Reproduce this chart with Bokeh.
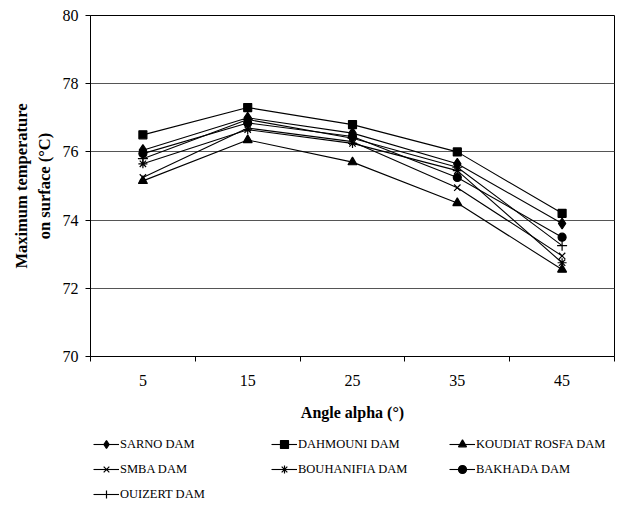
from bokeh.plotting import figure
from bokeh.models import FixedTicker, Range1d
from bokeh.layouts import column
from bokeh.embed import file_html
from bokeh.resources import INLINE

angles = [5, 15, 25, 35, 45]
sarno = [76.05, 77.0, 76.55, 75.65, 73.9]
dahmouni = [76.5, 77.3, 76.8, 76.0, 74.2]
koudiat = [75.15, 76.35, 75.7, 74.5, 72.55]
smba = [75.25, 76.7, 76.3, 74.95, 72.95]
bouhanifia = [75.65, 76.65, 76.25, 75.45, 72.75]
bakhada = [75.95, 76.85, 76.45, 75.25, 73.5]
ouizert = [75.8, 76.95, 76.4, 75.55, 73.25]

series = [
    ("SARNO DAM", sarno, "diamond", 11),
    ("DAHMOUNI DAM", dahmouni, "square", 8),
    ("KOUDIAT ROSFA DAM", koudiat, "triangle", 9),
    ("SMBA DAM", smba, "x", 9),
    ("BOUHANIFIA DAM", bouhanifia, "asterisk", 9),
    ("BAKHADA DAM", bakhada, "circle", 8),
    ("OUIZERT DAM", ouizert, "cross", 10),
]

FONT = "Liberation Serif"

p = figure(width=634, height=432, output_backend="svg", toolbar_location=None,
           x_range=Range1d(0, 50), y_range=Range1d(70, 80),
           min_border_left=90, min_border_right=20, min_border_top=15,
           min_border_bottom=76)

p.outline_line_color = "black"
p.outline_line_width = 1
p.background_fill_color = "white"
p.border_fill_color = "white"

for name, vals, marker, size in series:
    p.line(angles, vals, line_color="black", line_width=1.1)
    p.scatter(angles, vals, marker=marker, size=size, fill_color="black",
              line_color="black", line_width=1.2)

# x axis
p.xaxis.ticker = FixedTicker(ticks=angles, minor_ticks=[0, 10, 20, 30, 40, 50])
p.xaxis.major_tick_line_color = None
p.xaxis.minor_tick_line_color = "black"
p.xaxis.minor_tick_out = 5
p.xaxis.minor_tick_in = 0
p.xaxis.axis_label = "Angle alpha (°)"
p.xgrid.visible = False

# y axis
p.yaxis.ticker = FixedTicker(ticks=[70, 72, 74, 76, 78, 80])
p.yaxis.minor_tick_line_color = None
p.yaxis.major_tick_line_color = "black"
p.yaxis.major_tick_out = 5
p.yaxis.major_tick_in = 0
p.yaxis.axis_label = "Maximum temperature\non surface (°C)"
p.ygrid.grid_line_color = "#555555"
p.ygrid.grid_line_width = 1

for ax in (p.xaxis[0], p.yaxis[0]):
    ax.axis_line_color = "black"
    ax.major_label_text_font = FONT
    ax.major_label_text_font_size = "16px"
    ax.major_label_text_color = "black"
    ax.axis_label_text_font = FONT
    ax.axis_label_text_font_style = "bold"
    ax.axis_label_text_font_size = "16px"
    ax.axis_label_text_color = "black"

p.yaxis.axis_label_text_font_size = "16.5px"
p.xaxis.major_label_standoff = 12
p.xaxis.axis_label_standoff = 15
p.yaxis.major_label_standoff = 7
p.yaxis.axis_label_standoff = 6

# legend panel: same series drawn outside its visible range, only the legend shows
q = figure(width=634, height=74, output_backend="svg", toolbar_location=None,
           x_range=Range1d(100, 110), y_range=Range1d(0, 1),
           min_border_left=0, min_border_right=0, min_border_top=0,
           min_border_bottom=0)
q.axis.visible = False
q.grid.visible = False
q.outline_line_color = None
q.background_fill_color = "white"
q.border_fill_color = "white"

for name, vals, marker, size in series:
    q.line(angles, vals, line_color="black", line_width=1.1, legend_label=name)
    q.scatter(angles, vals, marker=marker, size=size, fill_color="black",
              line_color="black", line_width=1.2, legend_label=name)

leg = q.legend[0]
leg.ncols = 3
leg.orientation = "horizontal"
leg.location = (3, 2)
leg.border_line_color = None
leg.background_fill_alpha = 0
leg.label_text_font = FONT
leg.label_text_font_size = "12.5px"
leg.label_text_color = "black"
leg.glyph_width = 26
leg.glyph_height = 20
leg.label_standoff = 1
leg.label_width = 146
leg.spacing = 5
leg.label_height = 14
leg.padding = 1
leg.margin = 0

layout = column(p, q, spacing=0)
open("out.html", "w").write(file_html(layout, INLINE))
